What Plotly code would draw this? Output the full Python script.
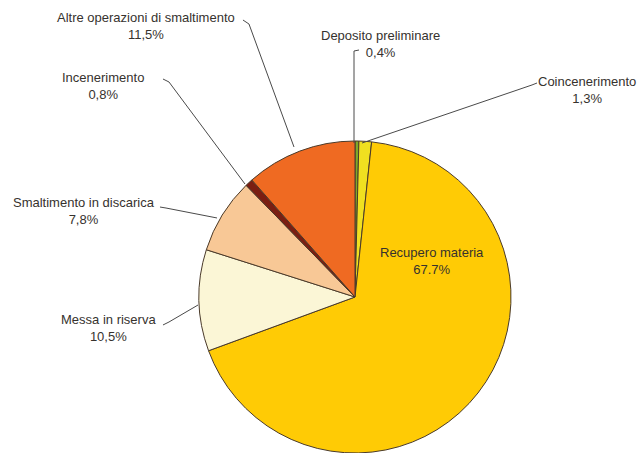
import plotly.graph_objects as go

# data (clockwise from 12 o'clock)
labels = [
    "Deposito preliminare",
    "Coincenerimento",
    "Recupero materia",
    "Messa in riserva",
    "Smaltimento in discarica",
    "Incenerimento",
    "Altre operazioni di smaltimento",
]
values = [0.4, 1.3, 67.7, 10.5, 7.8, 0.8, 11.5]
pct_text = ["0,4%", "1,3%", "67.7%", "10,5%", "7,8%", "0,8%", "11,5%"]
colors = ["#7FA82A", "#F0E020", "#FFCB05", "#FBF6D6", "#F8C896", "#7A1E12", "#EF6A22"]

W, H = 644, 453

# label centres and leader paths in pixels (layout only)
label_pos = {
    "Deposito preliminare": (380, 44),
    "Coincenerimento": (587, 90),
    "Recupero materia": (432, 261),
    "Messa in riserva": (109, 328),
    "Smaltimento in discarica": (84, 211),
    "Incenerimento": (103, 86),
    "Altre operazioni di smaltimento": (146, 26),
}
leaders = {
    "Deposito preliminare": [(359, 50), (354, 51), (354, 143)],
    "Coincenerimento": [(537, 83), (532, 85), (362, 143)],
    "Messa in riserva": [(163, 325), (169, 322), (198, 305)],
    "Smaltimento in discarica": [(160, 207), (166, 208), (217, 218)],
    "Incenerimento": [(163, 79), (169, 82), (245, 184)],
    "Altre operazioni di smaltimento": [(243, 20), (249, 24), (294, 147)],
}


def px_to_paper(x, y):
    return x / W, 1 - y / H


fig = go.Figure(go.Pie(
    labels=labels,
    values=values,
    sort=False,
    direction="clockwise",
    rotation=0,
    textinfo="none",
    hoverinfo="label+percent",
    marker=dict(colors=colors, line=dict(color="#4A3A2A", width=1)),
    domain=dict(x=[199 / W, 511 / W], y=[0, 312 / H]),
    showlegend=False,
))

for name, pct in zip(labels, pct_text):
    x, y = px_to_paper(*label_pos[name])
    fig.add_annotation(
        x=x, y=y, xref="paper", yref="paper",
        xanchor="center", yanchor="middle",
        text=f"{name}<br>{pct}", showarrow=False,
        font=dict(family="Liberation Sans, Arial, sans-serif", size=13, color="#36322E"),
        align="center",
    )

for name, pts in leaders.items():
    path = ""
    for i, (px_, py_) in enumerate(pts):
        xp, yp = px_to_paper(px_, py_)
        path += ("M" if i == 0 else " L") + f" {xp:.4f} {yp:.4f}"
    fig.add_shape(type="path", path=path, xref="paper", yref="paper",
                  line=dict(color="#4A4A4A", width=1))

fig.update_layout(
    width=W, height=H,
    margin=dict(l=0, r=0, t=0, b=0),
    paper_bgcolor="white",
    plot_bgcolor="white",
)

fig.write_html("out.html", config={"displayModeBar": False},
               post_script="document.body.style.margin='0';")
